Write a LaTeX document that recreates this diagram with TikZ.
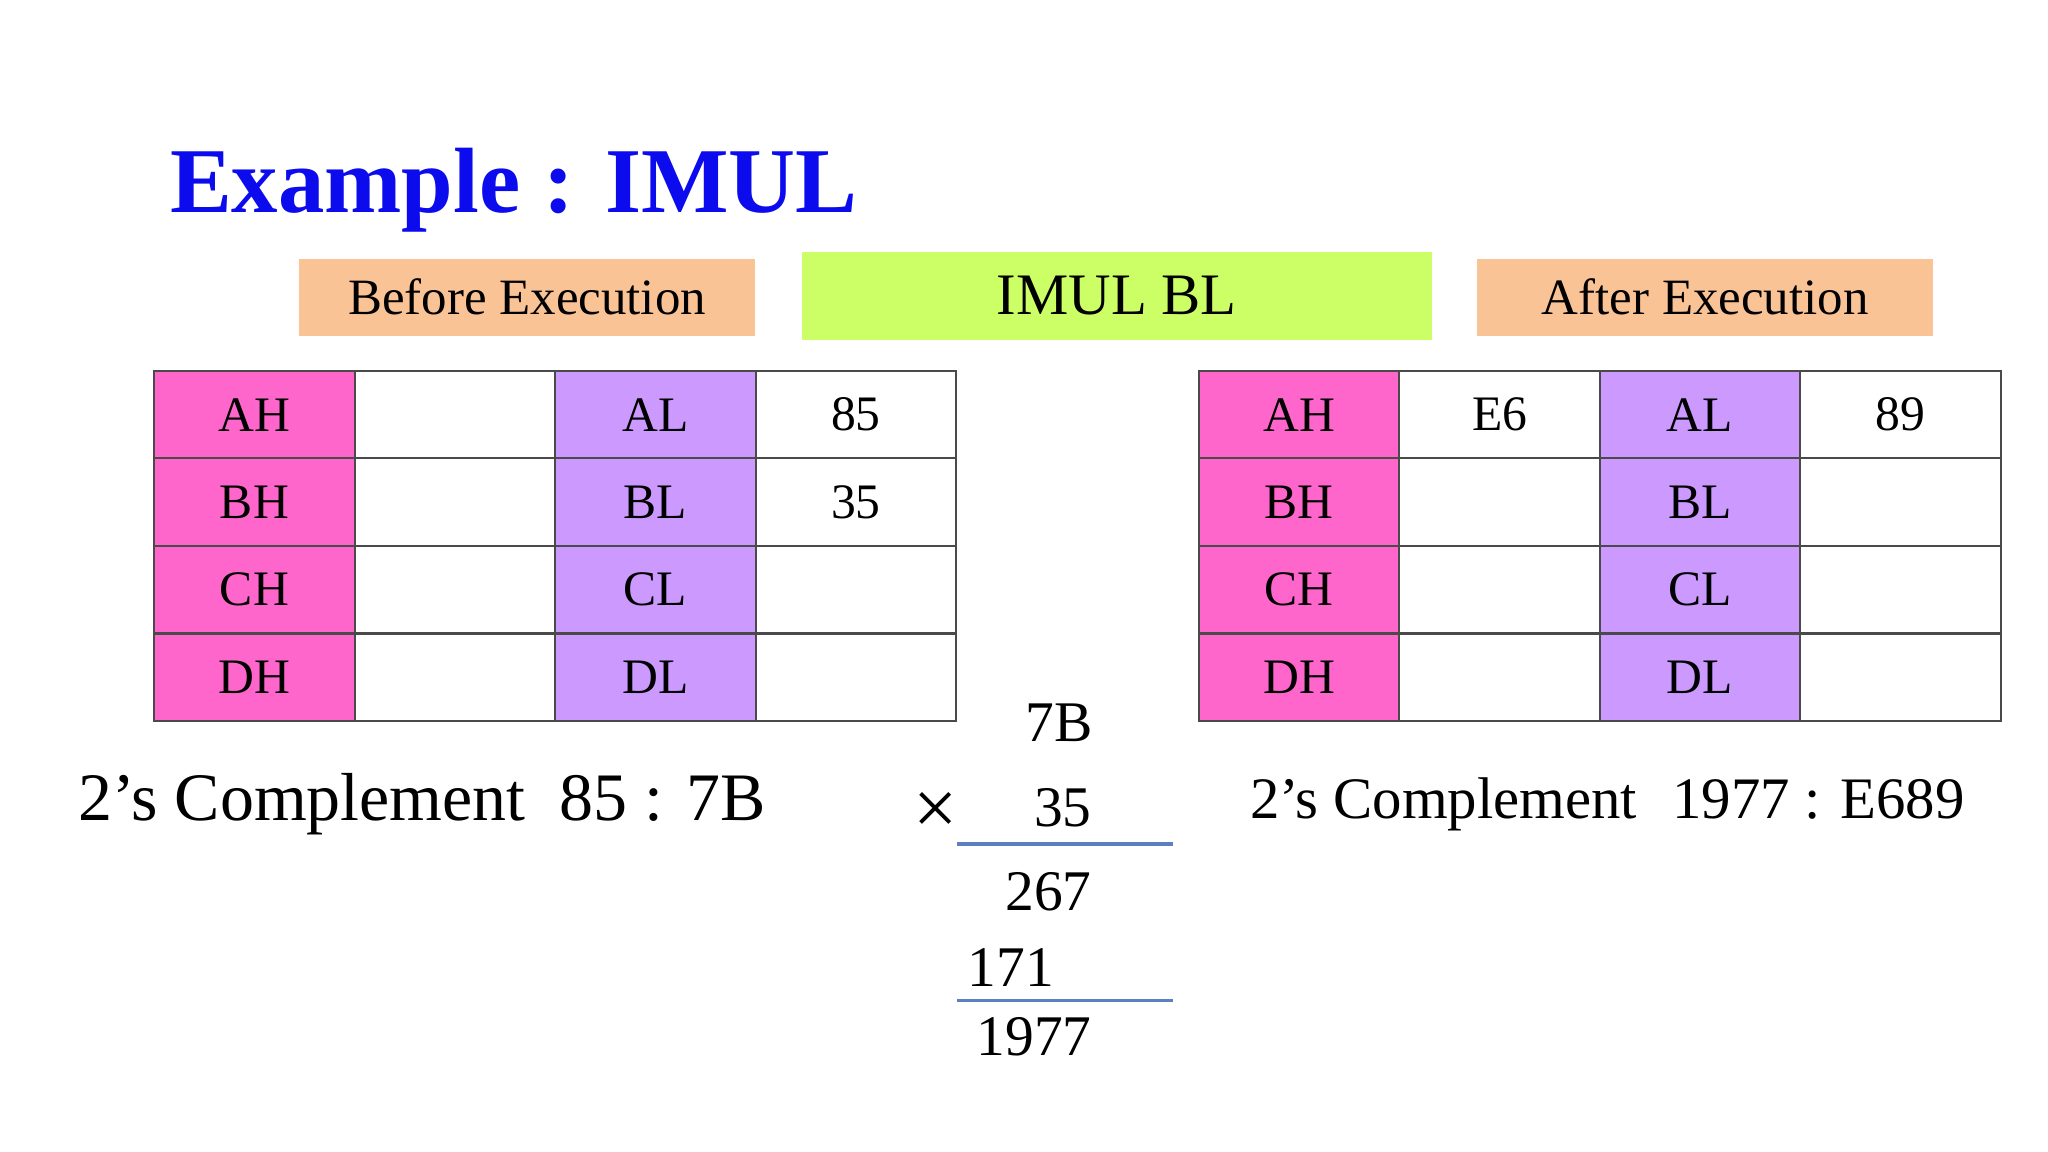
\documentclass[tikz,border=0pt]{standalone}
\usepackage{fontspec}
\setmainfont{Liberation Serif}
\usepackage{xcolor}
\usepackage{tikz}
\definecolor{titleblue}{HTML}{0B0BEE}
\definecolor{peach}{HTML}{FAC396}
\definecolor{lime}{HTML}{CCFF66}
\definecolor{hipink}{HTML}{FF66CC}
\definecolor{lilac}{HTML}{CC99FF}
\definecolor{gridgray}{HTML}{4A4A4A}
\definecolor{ruleblue}{HTML}{5B7FC0}

\begin{document}
\begin{tikzpicture}[x=1pt,y=-1pt,
    cell/.style={draw=gridgray,line width=1.6pt,minimum width=153.5pt,minimum height=67pt,inner sep=0pt,outer sep=0pt,font=\fontsize{38}{40}\selectfont},
    hreg/.style={cell,fill=hipink},
    lreg/.style={cell,fill=lilac},
    val/.style={font=\fontsize{38}{40}\selectfont},
    banner/.style={minimum width=349pt,minimum height=59pt,inner sep=0pt,font=\fontsize{39}{42}\selectfont},
    digits/.style={anchor=base east,inner sep=0pt,font=\fontsize{44}{46}\selectfont}]
        % page
        \fill[white] (0,0) rectangle (1568,882);
        \useasboundingbox (0,0) rectangle (1568,882);
        % title
        \node[anchor=base west,inner sep=0pt,text=titleblue,font=\fontsize{71}{80}\selectfont\bfseries] (title) at (130,163) {Example : IMUL};
        % banners
        \node[banner,fill=peach] (before) at (403.5,227.5) {Before Execution};
        \node[banner,fill=lime,minimum width=482pt,minimum height=67pt,font=\fontsize{45}{48}\selectfont] (instr) at (855,226.5) {IMUL BL};
        \node[banner,fill=peach] (after) at (1305.5,227.5) {After Execution};
        % register tables
        \foreach \r [count=\i from 0] in {A,B,C,D} {
            \node[hreg] (b\r h) at (194.75,317.5+67*\i) {\r H};
            \node[cell] (b\r hv) at (348.25,317.5+67*\i) {};
            \node[lreg] (b\r l) at (501.75,317.5+67*\i) {\r L};
            \node[cell] (b\r lv) at (655.25,317.5+67*\i) {};
            \node[hreg] (a\r h) at (994.6,317.5+67*\i) {\r H};
            \node[cell] (a\r hv) at (1148.1,317.5+67*\i) {};
            \node[lreg] (a\r l) at (1301.6,317.5+67*\i) {\r L};
            \node[cell] (a\r lv) at (1455,317.5+67*\i) {};
        }
        \node[val] at (bAlv) {85};
        \node[val] at (bBlv) {35};
        \node[val] at (aAhv) {E6};
        \node[val] at (aAlv) {89};
        % 2's complement notes
        \node[anchor=base west,inner sep=0pt,font=\fontsize{52}{56}\selectfont] (cmpb) at (60,628) {2’s Complement\hspace{0.5em}85 : 7B};
        \node[anchor=base west,inner sep=0pt,font=\fontsize{45}{48}\selectfont] (cmpa) at (957,627) {2’s Complement\hspace{0.6em}1977 : E689};
        % long multiplication
        \node[digits] (m1) at (837,568) {7B};
        \node[inner sep=0pt,font=\fontsize{60}{62}\selectfont] (times) at (716,623) {×};
        \node[digits] (m2) at (836,633) {35};
        \draw[ruleblue,line width=3pt] (733,646) -- (898,646);
        \node[digits] (p1) at (836,697) {267};
        \node[digits] (p2) at (807,755) {171};
        \draw[ruleblue,line width=3pt] (733,766) -- (898,766);
        \node[digits] (res) at (836,808) {1977};
    \end{tikzpicture}
\end{document}
